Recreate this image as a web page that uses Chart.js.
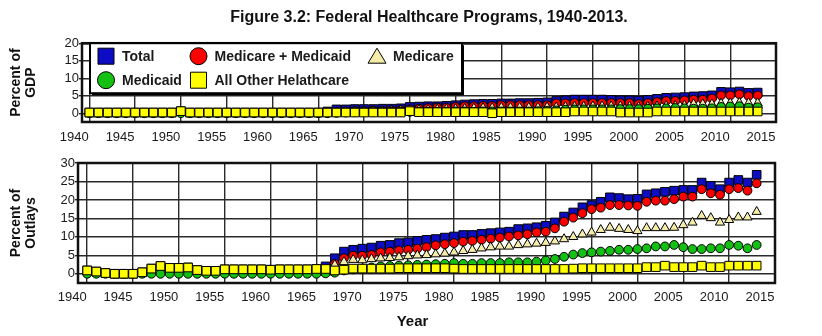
<!DOCTYPE html>
<html>
<head>
<meta charset="utf-8">
<title>Federal Healthcare Programs, 1940-2013</title>
<script src="https://cdn.jsdelivr.net/npm/chart.js@4.4.1/dist/chart.umd.min.js"></script>
<style>
  body { margin: 0; background: #fff; }
  #wrap { position: relative; width: 822px; height: 336px; }
  canvas { position: absolute; left: 0; }
</style>
</head>
<body>
<div id="wrap">
  <canvas id="gdpChart" width="822" height="150" style="top:0"></canvas>
  <canvas id="outlayChart" width="822" height="186" style="top:150px"></canvas>
</div>
<script>
// fiscal years shown on both panels
var years = [
  1940, 1941, 1942, 1943, 1944, 1945, 1946, 1947, 1948, 1949,
  1950, 1951, 1952, 1953, 1954, 1955, 1956, 1957, 1958, 1959,
  1960, 1961, 1962, 1963, 1964, 1965, 1966, 1967, 1968, 1969,
  1970, 1971, 1972, 1973, 1974, 1975, 1976, 1977, 1978, 1979,
  1980, 1981, 1982, 1983, 1984, 1985, 1986, 1987, 1988, 1989,
  1990, 1991, 1992, 1993, 1994, 1995, 1996, 1997, 1998, 1999,
  2000, 2001, 2002, 2003, 2004, 2005, 2006, 2007, 2008, 2009,
  2010, 2011, 2012, 2013
];
var xTicks = [1940, 1945, 1950, 1955, 1960, 1965, 1970, 1975, 1980, 1985, 1990, 1995, 2000, 2005, 2010, 2015];
var gdpTicks = [0, 5, 10, 15, 20];
var outlayTicks = [0, 5, 10, 15, 20, 25, 30];

// ---- percent of GDP ----
var totalGdp = [
  0.2, 0.2, 0.2, 0.2, 0.2, 0.2, 0.2, 0.2, 0.2, 0.2,
  0.6, 0.2, 0.2, 0.2, 0.2, 0.2, 0.2, 0.2, 0.2, 0.2,
  0.2, 0.2, 0.2, 0.2, 0.2, 0.2, 0.5, 1.1, 1.1, 1.2,
  1.2, 1.2, 1.3, 1.3, 1.4, 1.8, 1.9, 2.0, 2.0, 2.1,
  2.3, 2.5, 2.6, 2.7, 2.7, 2.8, 2.8, 2.9, 2.9, 3.0,
  3.1, 3.5, 3.7, 3.9, 3.9, 3.9, 3.9, 3.8, 3.7, 3.7,
  3.6, 3.8, 4.1, 4.4, 4.5, 4.6, 4.8, 4.9, 5.1, 6.1,
  6.0, 6.2, 5.8, 5.9
];
var mmGdp = [
  null, null, null, null, null, null, null, null, null, null,
  null, null, null, null, null, null, null, null, null, null,
  null, null, null, null, null, null, 0.1, 0.4, 0.5, 0.6,
  0.6, 0.7, 0.7, 0.8, 0.9, 1.1, 1.3, 1.5, 1.6, 1.6,
  1.8, 2.0, 2.0, 2.1, 2.1, 2.3, 2.3, 2.3, 2.3, 2.3,
  2.3, 2.8, 2.8, 2.9, 2.9, 2.9, 2.9, 2.9, 2.9, 2.9,
  2.6, 2.9, 3.2, 3.5, 3.5, 3.7, 3.9, 3.9, 4.2, 5.1,
  5.1, 5.4, 4.9, 5.1
];
var medicareGdp = [
  null, null, null, null, null, null, null, null, null, null,
  null, null, null, null, null, null, null, null, null, null,
  null, null, null, null, null, null, 0.1, 0.3, 0.5, 0.6,
  0.6, 0.7, 0.7, 0.7, 0.8, 0.9, 1.0, 1.0, 1.1, 1.1,
  1.2, 1.3, 1.4, 1.5, 1.5, 1.6, 1.6, 1.6, 1.6, 1.6,
  1.7, 1.7, 1.8, 1.9, 1.9, 2.0, 2.0, 2.0, 2.0, 1.9,
  1.8, 1.9, 2.0, 2.1, 2.1, 2.2, 2.6, 2.6, 2.6, 2.8,
  2.9, 3.0, 2.9, 2.9
];
var medicaidGdp = [
  0, 0, 0, 0, 0, 0, 0, 0, 0, 0,
  0, 0, 0, 0, 0, 0, 0, 0, 0, 0,
  0, 0, 0, 0, 0, 0, 0.0, 0.1, 0.2, 0.3,
  0.3, 0.3, 0.4, 0.4, 0.4, 0.4, 0.4, 0.4, 0.4, 0.4,
  0.5, 0.5, 0.4, 0.5, 0.5, 0.5, 0.5, 0.5, 0.5, 0.6,
  0.7, 0.8, 1.0, 1.1, 1.1, 1.1, 1.1, 1.1, 1.2, 1.2,
  1.2, 1.3, 1.4, 1.4, 1.5, 1.4, 1.3, 1.3, 1.4, 1.8,
  1.9, 2.0, 1.6, 1.7
];
var otherGdp = [
  0.2, 0.2, 0.2, 0.2, 0.2, 0.2, 0.2, 0.2, 0.2, 0.2,
  0.6, 0.2, 0.2, 0.2, 0.2, 0.2, 0.2, 0.2, 0.2, 0.2,
  0.2, 0.2, 0.2, 0.2, 0.2, 0.2, 0.2, 0.2, 0.2, 0.2,
  0.2, 0.2, 0.2, 0.2, 0.2, 0.6, 0.3, 0.3, 0.3, 0.3,
  0.3, 0.3, 0.3, 0.3, 0.0, 0.3, 0.3, 0.3, 0.3, 0.3,
  0.3, 0.3, 0.3, 0.5, 0.5, 0.5, 0.5, 0.5, 0.2, 0.2,
  0.2, 0.2, 0.5, 0.5, 0.5, 0.5, 0.5, 0.5, 0.5, 0.5,
  0.5, 0.5, 0.5, 0.5
];

// ---- percent of outlays ----
var totalOutlays = [
  0.9, 0.6, 0.2, 0.0, 0.0, 0.0, 0.4, 1.4, 2.1, 1.6,
  1.6, 1.7, 1.0, 0.8, 0.8, 1.2, 1.2, 1.2, 1.2, 1.2,
  1.1, 1.2, 1.2, 1.2, 1.2, 1.3, 2.0, 4.2, 6.0, 6.5,
  6.8, 7.1, 7.6, 7.8, 8.3, 8.5, 8.9, 9.2, 9.4, 9.8,
  10.1, 10.5, 10.5, 10.8, 11.0, 11.2, 11.4, 12.1, 12.3, 12.6,
  13.0, 13.9, 15.5, 16.6, 18.0, 18.6, 19.5, 20.7, 20.5, 20.2,
  20.3, 21.5, 21.8, 22.2, 22.5, 22.7, 22.7, 24.7, 23.8, 22.9,
  24.7, 25.4, 24.7, 26.8
];
var mmOutlays = [
  null, null, null, null, null, null, null, null, null, null,
  null, null, null, null, null, null, null, null, null, null,
  null, null, null, null, null, null, 0.4, 2.7, 4.2, 4.9,
  4.9, 5.1, 5.8, 6.0, 6.3, 6.5, 6.8, 7.2, 7.7, 8.0,
  8.3, 8.7, 8.9, 9.2, 9.5, 9.8, 10.1, 10.4, 10.7, 11.2,
  11.4, 12.3, 14.1, 15.2, 16.4, 17.5, 17.9, 18.6, 18.6, 18.5,
  18.4, 19.5, 19.8, 19.8, 20.2, 20.9, 20.9, 22.9, 21.8, 21.4,
  22.9, 23.2, 22.5, 24.5
];
var medicareOutlays = [
  null, null, null, null, null, null, null, null, null, null,
  null, null, null, null, null, null, null, null, null, null,
  null, null, null, null, null, null, 0.3, 2.4, 3.2, 3.8,
  3.7, 4.0, 4.2, 4.3, 4.5, 4.8, 5.0, 5.1, 5.3, 5.5,
  5.8, 6.2, 6.5, 6.9, 7.2, 7.4, 7.4, 7.8, 8.0, 8.2,
  8.4, 8.8, 9.4, 10.0, 10.7, 11.2, 11.9, 12.5, 12.2, 11.9,
  11.6, 12.4, 12.4, 12.4, 12.5, 13.2, 13.9, 15.7, 15.1, 13.9,
  14.6, 15.3, 15.3, 16.8
];
var medicaidOutlays = [
  0, 0, 0, 0, 0, 0, 0, 0, 0, 0,
  0, 0, 0, 0, 0, 0, 0, 0, 0, 0,
  0, 0, 0, 0, 0, 0, 0.1, 0.3, 0.9, 1.2,
  1.4, 1.7, 2.0, 2.1, 2.2, 2.3, 2.4, 2.5, 2.6, 2.7,
  2.9, 2.7, 2.7, 2.9, 2.9, 2.9, 3.1, 3.1, 3.1, 3.3,
  3.6, 4.0, 4.6, 5.2, 5.6, 5.8, 6.0, 6.2, 6.5, 6.5,
  6.7, 6.9, 7.4, 7.4, 7.8, 7.2, 6.7, 6.7, 6.9, 6.9,
  7.8, 7.6, 6.9, 7.8
];
var otherOutlays = [
  0.9, 0.6, 0.2, 0.0, 0.0, 0.0, 0.4, 1.4, 2.1, 1.6,
  1.6, 1.7, 1.0, 0.8, 0.8, 1.2, 1.2, 1.2, 1.2, 1.2,
  1.1, 1.2, 1.2, 1.2, 1.2, 1.3, 1.3, 0.9, 1.1, 1.4,
  1.4, 1.4, 1.4, 1.4, 1.5, 1.5, 1.5, 1.5, 1.5, 1.5,
  1.4, 1.3, 1.3, 1.3, 1.3, 1.3, 1.3, 1.3, 1.3, 1.3,
  1.3, 1.3, 1.3, 1.4, 1.5, 1.5, 1.5, 1.5, 1.5, 1.5,
  1.5, 1.8, 1.8, 2.2, 1.8, 1.8, 1.8, 2.2, 1.8, 1.8,
  2.2, 2.2, 2.2, 2.2
];

Chart.defaults.font.family = '"Liberation Sans", Arial, sans-serif';
Chart.defaults.color = '#1a1a1a';

// marker look per series; lower order is painted on top
var looks = [
  { label: 'Total', pointStyle: 'rect', radius: 6.1, color: '#0c0cc4', order: 4 },
  { label: 'Medicare + Medicaid', pointStyle: 'circle', radius: 4.4, color: '#ff0000', order: 3 },
  { label: 'Medicare', pointStyle: 'triangle', radius: 5.3, color: '#f4eca8', order: 2 },
  { label: 'Medicaid', pointStyle: 'circle', radius: 4.4, color: '#14c014', order: 1 },
  { label: 'All Other Helathcare', pointStyle: 'rect', radius: 6.1, color: '#ffff00', order: 0 }
];

function pairs(vals) {
  var out = [];
  years.forEach(function (yr, i) {
    if (vals[i] !== null) out.push({ x: yr, y: vals[i] });
  });
  return out;
}

function datasets(seriesList) {
  return seriesList.map(function (vals, i) {
    var lk = looks[i];
    return {
      label: lk.label,
      data: pairs(vals),
      order: lk.order,
      pointStyle: lk.pointStyle,
      pointRadius: lk.radius,
      pointHoverRadius: lk.radius,
      pointBackgroundColor: lk.color,
      pointBorderColor: '#000',
      pointBorderWidth: 1,
      showLine: false
    };
  });
}

// thick black frame round the plot area
var frame = {
  id: 'frame',
  beforeDatasetsDraw: function (chart) {
    var a = chart.chartArea, ctx = chart.ctx;
    ctx.save();
    ctx.strokeStyle = '#111';
    ctx.lineWidth = 2.5;
    ctx.strokeRect(a.left, a.top, a.right - a.left, a.bottom - a.top);
    ctx.restore();
  }
};

// boxed legend sitting inside the top panel
var legendSpots = [
  { dx: 16, dy: 13 }, { dx: 108.5, dy: 13 }, { dx: 287, dy: 13 },
  { dx: 16, dy: 37 }, { dx: 108.5, dy: 37 }
];
var legendBox = {
  id: 'legendBox',
  afterDatasetsDraw: function (chart) {
    var ctx = chart.ctx, a = chart.chartArea;
    var x0 = a.left + 8, y0 = a.top, w = 372, h = 50;
    ctx.save();
    ctx.fillStyle = '#000';
    ctx.fillRect(x0 + 2, y0 + 2, w, h);
    ctx.fillStyle = '#fff';
    ctx.fillRect(x0, y0, w, h);
    ctx.lineWidth = 2;
    ctx.strokeStyle = '#000';
    ctx.strokeRect(x0, y0, w, h);
    ctx.font = 'bold 14px "Liberation Sans", Arial, sans-serif';
    ctx.textBaseline = 'middle';
    looks.forEach(function (lk, i) {
      var cx = x0 + legendSpots[i].dx, cy = y0 + legendSpots[i].dy;
      ctx.fillStyle = lk.color;
      ctx.strokeStyle = '#000';
      ctx.lineWidth = 1;
      ctx.beginPath();
      if (lk.pointStyle === 'rect') {
        ctx.rect(cx - 8, cy - 8, 16, 16);
      } else if (lk.pointStyle === 'circle') {
        ctx.arc(cx, cy, 8.5, 0, Math.PI * 2);
      } else {
        ctx.moveTo(cx, cy - 8);
        ctx.lineTo(cx + 9, cy + 7);
        ctx.lineTo(cx - 9, cy + 7);
        ctx.closePath();
      }
      ctx.fill();
      ctx.stroke();
      ctx.fillStyle = '#1a1a1a';
      ctx.fillText(lk.label, cx + 16, cy + 1);
    });
    ctx.restore();
  }
};

// "Year" caption, sits a little left of the plot centre like the original
var yearLabel = {
  id: 'yearLabel',
  afterDraw: function (chart) {
    var ctx = chart.ctx, a = chart.chartArea;
    ctx.save();
    ctx.font = 'bold 15px "Liberation Sans", Arial, sans-serif';
    ctx.fillStyle = '#111';
    ctx.textAlign = 'center';
    ctx.textBaseline = 'middle';
    ctx.fillText('Year', (a.left + a.right) / 2 - 14, 172);
    ctx.restore();
  }
};

function panelOptions(p) {
  return {
    responsive: false,
    animation: false,
    events: [],
    layout: { padding: { top: p.padTop, right: p.padRight, left: 0, bottom: 0 } },
    plugins: {
      legend: { display: false },
      tooltip: { enabled: false },
      title: p.title ? {
        display: true,
        text: p.title,
        fullSize: false,
        color: '#111',
        font: { size: 16, weight: 'bold' },
        padding: { top: 8, bottom: 16 }
      } : { display: false }
    },
    scales: {
      x: {
        type: 'linear',
        min: p.xMin,
        max: 2015,
        afterBuildTicks: function (s) { s.ticks = xTicks.map(function (v) { return { value: v }; }); },
        afterFit: function (s) { s.height = p.xAxisH; },
        ticks: {
          callback: function (v) { return String(v); },
          labelOffset: -15,
          padding: p.xPad,
          maxRotation: 0,
          autoSkip: false,
          color: '#1a1a1a',
          font: { size: 13 }
        },
        grid: { color: '#2a2a2a', lineWidth: 1.4, drawTicks: false },
        border: { display: false }
      },
      y: {
        min: -2.5,
        max: p.yMax,
        afterBuildTicks: function (s) { s.ticks = p.yTicks.map(function (v) { return { value: v }; }); },
        afterFit: function (s) { s.width = p.axisW; },
        ticks: {
          callback: function (v) { return String(v); },
          padding: 0,
          color: '#1a1a1a',
          font: { size: 13 }
        },
        grid: { color: '#2a2a2a', lineWidth: 1.4, tickLength: 3 },
        border: { display: false },
        title: {
          display: true,
          text: p.yTitle,
          color: '#111',
          font: { size: 14, weight: 'bold', lineHeight: 1.1 },
          padding: { top: 8, bottom: 0 }
        }
      }
    }
  };
}

new Chart(document.getElementById('gdpChart'), {
  type: 'scatter',
  data: { datasets: datasets([totalGdp, mmGdp, medicareGdp, medicaidGdp, otherGdp]) },
  options: panelOptions({
    title: 'Figure 3.2: Federal Healthcare Programs, 1940-2013.',
    padTop: 0, padRight: 46, xMin: 1939.2, xAxisH: 28, xPad: 8,
    yMax: 20, yTicks: gdpTicks, axisW: 82, yTitle: ['Percent of', 'GDP']
  }),
  plugins: [frame, legendBox]
});

new Chart(document.getElementById('outlayChart'), {
  type: 'scatter',
  data: { datasets: datasets([totalOutlays, mmOutlays, medicareOutlays, medicaidOutlays, otherOutlays]) },
  options: panelOptions({
    title: null,
    padTop: 13, padRight: 47, xMin: 1939, xAxisH: 53, xPad: 7,
    yMax: 30, yTicks: outlayTicks, axisW: 78, yTitle: ['Percent of', 'Outlays']
  }),
  plugins: [frame, yearLabel]
});
</script>
</body>
</html>
